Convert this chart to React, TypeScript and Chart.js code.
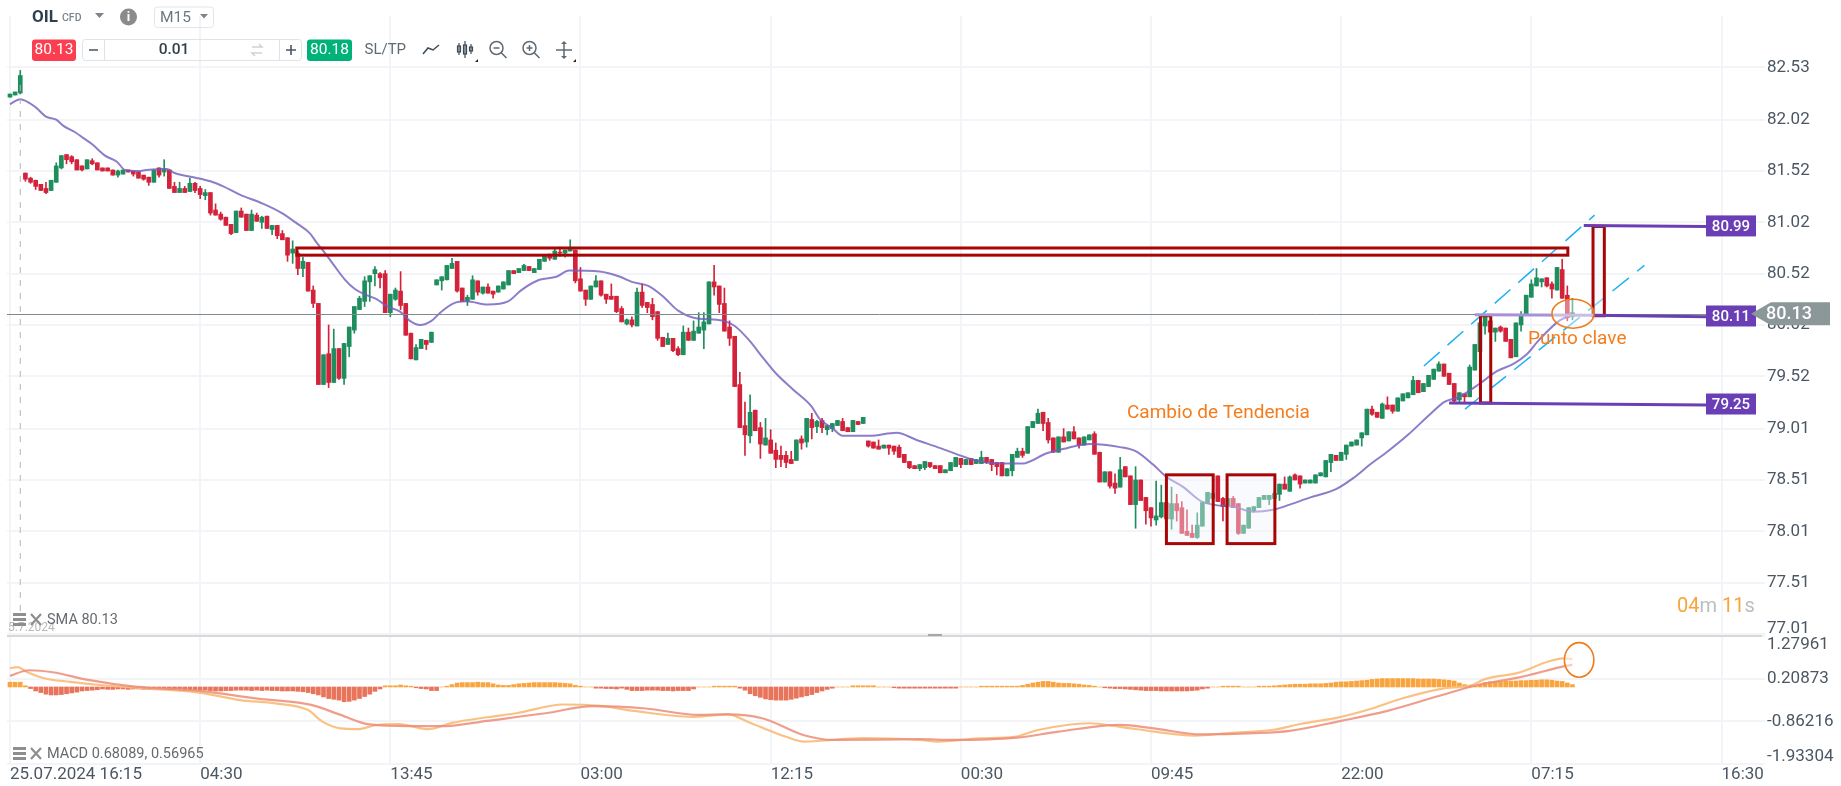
import React, { useEffect, useRef } from "react";
import { Chart, registerables } from "chart.js";

Chart.register(...registerables);

const FONT = "Roboto, sans-serif";

// ---- price candles: [open, high, low, close], one row per 15-minute bar ----
const candlesA = [
  [82.24,82.27,82.24,82.27],[82.26,82.29,82.26,82.29],[82.28,82.50,82.27,82.45],[81.50,81.50,81.42,81.44],
  [81.45,81.46,81.40,81.41],[81.43,81.43,81.34,81.37],[81.39,81.39,81.33,81.33],[81.35,81.41,81.30,81.31],
  [81.33,81.43,81.33,81.43],[81.41,81.60,81.41,81.57],[81.55,81.67,81.54,81.67],[81.68,81.68,81.59,81.63],
  [81.66,81.67,81.59,81.61],[81.63,81.63,81.53,81.53],[81.57,81.57,81.52,81.53],[81.54,81.63,81.54,81.63],
  [81.62,81.64,81.58,81.59],[81.60,81.60,81.53,81.53],[81.55,81.55,81.52,81.52],[81.55,81.55,81.52,81.52],
  [81.53,81.53,81.48,81.48],[81.48,81.53,81.46,81.52],[81.49,81.53,81.49,81.53],[81.53,81.53,81.51,81.51],
  [81.52,81.52,81.47,81.49],[81.51,81.51,81.45,81.45],[81.48,81.48,81.43,81.44],[81.46,81.46,81.38,81.41],
  [81.41,81.53,81.41,81.53],[81.55,81.55,81.46,81.48],[81.51,81.63,81.47,81.54],[81.53,81.53,81.35,81.35],
  [81.37,81.41,81.31,81.31],[81.31,81.41,81.31,81.35],[81.35,81.37,81.31,81.31],[81.32,81.45,81.32,81.40],
  [81.40,81.41,81.31,81.33],[81.35,81.37,81.25,81.29],[81.28,81.34,81.24,81.31],[81.31,81.31,81.09,81.11],
  [81.14,81.20,81.09,81.09],[81.10,81.12,81.04,81.05],[81.07,81.07,80.99,80.99],[81.00,81.00,80.90,80.91],
  [80.92,81.13,80.92,81.13],[81.13,81.16,81.07,81.07],[81.10,81.10,80.94,80.94],[80.94,81.14,80.94,81.10],
  [81.09,81.11,81.03,81.03],[81.02,81.08,80.96,81.07],[81.08,81.08,80.96,80.96],[80.95,80.99,80.90,80.99],
  [80.99,80.99,80.86,80.89],[80.91,80.94,80.85,80.85],[80.87,80.87,80.64,80.70],[80.72,80.84,80.62,80.76],
  [80.72,80.74,80.51,80.57],[80.57,80.68,80.49,80.64],
];
const candlesB = [
  [80.63,80.63,80.35,80.35],[80.36,80.40,80.19,80.23],[80.23,80.23,79.44,79.44],[79.44,79.73,79.44,79.73],
  [79.74,80.02,79.41,79.46],[79.46,79.98,79.46,79.79],[79.79,79.79,79.49,79.50],[79.50,79.84,79.44,79.84],
  [79.81,80.00,79.71,80.00],[79.97,80.20,79.94,80.20],[80.17,80.30,80.17,80.28],[80.25,80.49,80.20,80.45],
  [80.44,80.50,80.25,80.50],[80.52,80.59,80.40,80.56],[80.52,80.53,80.38,80.48],[80.52,80.55,80.14,80.14],
  [80.14,80.32,80.10,80.32],[80.27,80.38,80.26,80.36],[80.35,80.54,80.17,80.21],[80.23,80.23,79.92,79.92],
  [79.94,79.94,79.69,79.69],[79.68,79.83,79.68,79.80],[79.79,79.88,79.79,79.88],[79.87,79.87,79.78,79.83],
  [79.85,79.95,79.85,79.95],[80.41,80.46,80.41,80.46],[80.45,80.49,80.36,80.49],[80.46,80.60,80.46,80.60],
  [80.57,80.67,80.57,80.62],[80.64,80.64,80.34,80.35],[80.38,80.38,80.25,80.25],[80.25,80.31,80.21,80.29],
  [80.27,80.50,80.27,80.46],[80.45,80.45,80.31,80.34],[80.33,80.39,80.32,80.39],[80.39,80.42,80.33,80.33],
  [80.35,80.35,80.28,80.32],[80.34,80.40,80.34,80.40],[80.37,80.44,80.37,80.44],[80.41,80.55,80.41,80.55],
  [80.55,80.55,80.52,80.52],[80.53,80.57,80.53,80.57],[80.55,80.61,80.55,80.60],[80.59,80.59,80.55,80.55],
  [80.53,80.57,80.53,80.57],[80.56,80.66,80.56,80.66],[80.64,80.70,80.64,80.70],[80.71,80.71,80.65,80.67],
  [80.66,80.77,80.66,80.74],[80.73,80.78,80.69,80.72],[80.72,80.75,80.68,80.75],[80.74,80.85,80.74,80.77],
  [80.75,80.75,80.43,80.45],[80.47,80.58,80.35,80.35],[80.36,80.36,80.21,80.27],[80.27,80.40,80.27,80.40],
  [80.39,80.50,80.39,80.45],
];
const candlesC = [
  [80.45,80.45,80.30,80.31],[80.32,80.32,80.23,80.27],[80.30,80.42,80.27,80.27],[80.30,80.30,80.14,80.15],
  [80.18,80.20,80.05,80.05],[80.03,80.08,80.02,80.07],[80.07,80.10,80.00,80.02],[80.01,80.38,80.01,80.34],
  [80.34,80.42,80.19,80.21],[80.24,80.24,80.14,80.19],[80.22,80.28,80.07,80.10],[80.15,80.15,79.87,79.89],
  [79.90,79.90,79.81,79.81],[79.83,79.94,79.83,79.89],[79.89,79.89,79.76,79.77],[79.79,79.81,79.72,79.73],
  [79.73,80.01,79.73,79.95],[79.95,79.99,79.87,79.87],[79.87,80.06,79.87,79.96],[79.94,80.14,79.94,80.00],
  [79.97,80.14,79.79,80.05],[80.03,80.44,80.03,80.44],[80.44,80.60,80.31,80.39],[80.40,80.40,80.14,80.22],
  [80.23,80.38,79.96,79.96],[80.00,80.06,79.82,79.89],[79.91,79.91,79.42,79.42],[79.44,79.56,79.02,79.02],
  [79.04,79.27,78.75,78.95],[78.94,79.34,78.87,79.17],[79.19,79.19,78.99,78.99],[79.02,79.07,78.72,78.86],
  [78.85,79.11,78.85,78.92],[78.90,79.00,78.77,78.77],[78.80,78.87,78.63,78.71],[78.75,78.84,78.64,78.71],
  [78.75,78.79,78.63,78.68],[78.71,78.79,78.67,78.67],[78.70,78.90,78.70,78.90],[78.91,78.94,78.81,78.87],
  [78.88,79.11,78.83,79.11],[79.10,79.16,78.91,79.02],[79.03,79.09,78.97,79.08],[79.09,79.11,78.97,79.02],
  [79.00,79.04,78.95,79.04],[79.01,79.06,78.98,79.06],[79.04,79.09,79.04,79.09],[79.08,79.11,78.99,78.99],
  [79.02,79.02,78.98,78.98],[78.98,79.09,78.98,79.09],[79.08,79.08,79.05,79.05],[79.06,79.12,79.06,79.12],
];
const candlesD = [
  [78.89,78.89,78.83,78.84],[78.88,78.88,78.82,78.82],[78.84,78.90,78.81,78.81],[78.82,78.85,78.82,78.85],
  [78.85,78.85,78.76,78.82],[78.84,78.84,78.76,78.79],[78.83,78.85,78.73,78.73],[78.76,78.76,78.68,78.68],
  [78.69,78.69,78.62,78.63],[78.65,78.65,78.62,78.62],[78.62,78.66,78.60,78.66],[78.63,78.69,78.61,78.69],
  [78.68,78.68,78.63,78.64],[78.65,78.65,78.62,78.62],[78.65,78.65,78.58,78.58],[78.58,78.61,78.58,78.61],
  [78.60,78.68,78.60,78.68],[78.64,78.73,78.64,78.73],[78.72,78.72,78.63,78.66],[78.66,78.71,78.66,78.71],
  [78.72,78.72,78.66,78.66],[78.67,78.71,78.67,78.71],[78.67,78.79,78.67,78.73],[78.73,78.73,78.67,78.68],
  [78.71,78.71,78.60,78.66],[78.68,78.68,78.56,78.64],[78.68,78.68,78.55,78.55],[78.55,78.62,78.55,78.62],
  [78.60,78.76,78.55,78.76],[78.73,78.82,78.73,78.79],[78.79,78.82,78.73,78.75],[78.77,79.03,78.77,79.03],
  [79.02,79.08,79.02,79.08],[79.06,79.20,79.06,79.16],[79.17,79.17,78.99,79.06],[79.07,79.11,78.87,78.90],
  [78.92,78.92,78.78,78.78],[78.78,78.93,78.78,78.93],[78.93,79.01,78.88,78.88],[78.89,78.98,78.89,78.98],
  [78.98,79.03,78.91,78.91],[78.92,78.92,78.82,78.85],[78.85,78.93,78.85,78.93],[78.90,78.95,78.90,78.95],
  [78.96,78.98,78.76,78.76],[78.78,78.78,78.49,78.49],[78.49,78.59,78.49,78.59],[78.59,78.59,78.43,78.45],
  [78.48,78.57,78.38,78.43],[78.44,78.73,78.44,78.61],[78.64,78.64,78.54,78.54],[78.55,78.55,78.27,78.27],
  [78.27,78.64,78.04,78.51],[78.51,78.51,78.31,78.31],[78.34,78.34,78.08,78.21],[78.24,78.24,78.06,78.14],
  [78.12,78.50,78.07,78.16],
];
const candlesE = [
  [78.15,78.46,78.14,78.29],[78.29,78.29,78.12,78.13],[78.13,78.44,78.03,78.28],[78.28,78.37,78.11,78.21],
  [78.24,78.30,77.99,77.99],[78.01,78.22,77.97,77.97],[77.99,78.07,77.95,77.95],[77.95,78.19,77.94,78.07],
  [78.06,78.29,78.06,78.29],[78.28,78.39,78.28,78.39],[78.33,78.40,78.33,78.38],[78.55,78.55,78.30,78.30],
  [78.33,78.34,78.11,78.25],[78.26,78.33,78.26,78.33],[78.33,78.35,78.24,78.24],[78.28,78.28,77.98,77.99],
  [77.99,78.07,77.99,78.07],[78.04,78.24,78.04,78.24],[78.21,78.25,78.20,78.25],[78.24,78.34,78.24,78.34],
  [78.32,78.36,78.32,78.36],[78.32,78.36,78.27,78.36],[78.33,78.40,78.33,78.38],[78.37,78.47,78.31,78.47],
  [78.47,78.54,78.42,78.42],[78.40,78.55,78.40,78.54],[78.56,78.57,78.51,78.51],[78.55,78.55,78.43,78.47],
  [78.48,78.51,78.48,78.51],[78.48,78.51,78.48,78.51],[78.48,78.56,78.48,78.56],[78.55,78.58,78.55,78.58],
  [78.54,78.70,78.54,78.70],[78.68,78.76,78.59,78.76],[78.75,78.75,78.70,78.70],[78.70,78.78,78.70,78.78],
  [78.76,78.85,78.71,78.85],[78.84,78.88,78.84,78.88],[78.85,78.90,78.85,78.90],[78.92,78.97,78.84,78.97],
  [78.95,79.20,78.95,79.20],
];
const candlesF = [
  [79.20,79.23,79.14,79.15],[79.17,79.17,79.12,79.12],[79.11,79.26,79.11,79.25],[79.24,79.32,79.20,79.20],
  [79.24,79.24,79.16,79.18],[79.18,79.31,79.18,79.31],[79.28,79.35,79.28,79.35],[79.31,79.36,79.31,79.36],
  [79.34,79.52,79.34,79.48],[79.48,79.48,79.36,79.36],[79.37,79.45,79.37,79.45],[79.42,79.53,79.42,79.53],
  [79.49,79.59,79.49,79.59],[79.57,79.66,79.57,79.64],[79.64,79.64,79.52,79.52],[79.55,79.55,79.44,79.44],
  [79.45,79.45,79.27,79.28],[79.29,79.36,79.26,79.36],[79.35,79.35,79.26,79.32],[79.32,79.63,79.32,79.61],
  [79.58,79.83,79.58,79.83],[79.76,80.04,79.76,80.04],[80.01,80.10,79.93,80.10],[80.06,80.06,79.95,79.95],
  [79.95,79.99,79.86,79.99],[80.00,80.01,79.95,79.96],[79.99,79.99,79.86,79.86],[79.88,79.88,79.70,79.70],
  [79.71,80.04,79.71,80.04],[80.02,80.15,79.96,80.12],[80.12,80.31,80.12,80.31],[80.29,80.46,80.29,80.42],
  [80.40,80.57,80.40,80.48],[80.44,80.47,80.39,80.47],[80.48,80.48,80.39,80.40],[80.42,80.44,80.28,80.37],
  [80.36,80.58,80.36,80.58],[80.56,80.66,80.28,80.28],[80.31,80.40,80.06,80.09],[80.10,80.28,80.07,80.14],
];
const candles = [...candlesA, ...candlesB, ...candlesC, ...candlesD, ...candlesE, ...candlesF];

// ---- SMA overlay: [bar index, price] ----
const smaPoints = [
  [0,82.17],[2,82.22],[5,82.14],[7,82.05],[9,82.02],[10.4,81.96],[12.6,81.90],[14.3,81.84],[16,81.78],[18.5,81.67],
  [20.8,81.61],[22.4,81.53],[25,81.52],[26.6,81.53],[30.5,81.54],[32,81.50],[35.7,81.46],[39,81.42],[41.5,81.37],
  [44.7,81.29],[49.3,81.20],[52.9,81.11],[55.8,81.01],[58.4,80.91],[59.7,80.82],[61.3,80.72],[63.2,80.59],[65.2,80.46],
  [67.1,80.37],[69.4,80.31],[71.4,80.27],[73.4,80.20],[75.9,80.15],[77.8,80.06],[79.8,80.02],[82,80.06],[83.7,80.14],
  [86.3,80.23],[88.8,80.25],[93,80.22],[96.9,80.25],[99.5,80.36],[103,80.46],[106.3,80.49],[108.8,80.55],[114.7,80.54],
  [118.7,80.49],[121,80.44],[124.2,80.40],[127,80.30],[130,80.16],[134,80.08],[137.5,80.07],[141,80.01],[144,79.86],
  [146.2,79.72],[149,79.55],[152.4,79.39],[155.9,79.23],[157.6,79.10],[159.9,79.02],[162,78.94],[167.3,78.94],
  [172.5,78.97],[176.4,78.90],[181,78.82],[184.8,78.75],[188.7,78.69],[193,78.67],[197,78.67],[201.7,78.77],[205.6,78.82],
  [210,78.86],[216,78.83],[219,78.79],[222.4,78.66],[225,78.54],[228.3,78.44],[231.5,78.31],[234,78.27],[238,78.25],
  [241.9,78.20],[245.8,78.22],[249,78.27],[253,78.34],[258,78.42],[261.4,78.53],[264.6,78.66],[268.1,78.79],[272,78.95],
  [276.3,79.15],[279.1,79.27],[282,79.32],[286,79.45],[289.3,79.57],[292.5,79.64],[295,79.73],[297.6,79.88],[301.4,80.06],[304,80.12],
];

// ---- MACD panel ----
const macdPoints = [
  [0,0.47],[1.5,0.50],[3.2,0.38],[6.6,0.22],[11.8,0.13],[17.5,0.05],[25.5,-0.03],[36.8,-0.14],[44.8,-0.33],[51.6,-0.41],
  [58,-0.58],[60.8,-0.87],[64.3,-1.04],[67.7,-1.06],[71,-0.96],[75.7,-0.93],[81.4,-1.06],[86,-0.90],[92.8,-0.76],[98.5,-0.66],
  [107.7,-0.44],[114.5,-0.47],[121.4,-0.60],[132.8,-0.75],[139.6,-0.69],[144.2,-0.91],[151,-1.25],[154.5,-1.37],[157.9,-1.35],
  [165.9,-1.28],[177,-1.33],[180.5,-1.37],[188.5,-1.29],[195.4,-1.25],[200,-1.08],[210,-0.91],[216,-1.00],[222.6,-1.12],
  [230.6,-1.22],[237.6,-1.15],[245.5,-1.08],[251,-0.93],[259,-0.75],[265,-0.54],[270.8,-0.29],[278.7,-0.04],[284.5,0.05],
  [286.8,0.19],[293.6,0.36],[299.3,0.64],[302.2,0.72],[304,0.70],
];
const signalPoints = [
  [0,0.28],[3.7,0.42],[8.3,0.37],[15.2,0.18],[24.3,0.01],[36.8,-0.10],[48.2,-0.29],[58.6,-0.45],[64.3,-0.70],[70,-0.94],
  [77.9,-0.98],[84.8,-0.98],[92.8,-0.85],[104.2,-0.66],[113.4,-0.48],[123.7,-0.54],[134,-0.70],[139.6,-0.69],[146.5,-0.79],
  [154.5,-1.21],[160.2,-1.33],[177,-1.31],[183.4,-1.33],[196,-1.27],[204,-1.12],[216,-0.95],[222.6,-1.04],[231.7,-1.19],
  [242,-1.16],[249,-1.10],[259,-0.85],[268,-0.60],[277.6,-0.24],[285.6,0.05],[293.6,0.24],[302.7,0.53],[304,0.56],
];
const histValues = [
  .12,.12,.12,.03,-.04,-.1,-.14,-.18,-.2,-.2,-.19,-.17,-.15,-.13,-.1,-.09,-.08,-.07,
  -.05,-.06,-.06,-.05,-.05,-.06,-.05,-.05,-.06,-.06,-.05,-.05,-.06,-.06,-.06,-.05,-.06,-.07,-.07,
  -.08,-.08,-.09,-.1,-.1,-.09,-.09,-.08,-.08,-.08,-.09,-.08,-.09,-.08,-.09,-.09,-.1,-.1,-.1,
  -.11,-.12,-.14,-.17,-.2,-.25,-.29,-.31,-.33,-.37,-.36,-.33,-.29,-.24,-.18,-.11,-.05,
  .03,.03,.03,.05,.03,.02,-.02,-.04,-.05,-.09,-.09,0,.02,.06,.1,.11,.11,.11,.12,.11,.11,.08,.05,.04,.04,.06,.08,.09,.1,.11,.11,.11,.11,.11,.1,.09,.08,.04,.02,0,0,
  -.03,-.03,-.04,-.04,-.05,-.03,-.06,-.09,-.09,-.09,-.08,-.08,-.08,-.09,-.09,-.1,-.09,-.09,-.09,-.05,0,0,0,
  .02,.02,.02,.02,.02,-.03,-.08,-.17,-.22,-.26,-.3,-.32,-.33,-.33,-.33,-.31,-.28,-.25,-.22,-.19,-.14,-.1,-.06,-.03,0,0,0,
  .03,.03,.03,.03,.03,0,0,0,-.02,-.03,-.03,-.03,-.03,-.03,-.03,-.03,-.03,-.03,-.03,-.03,-.03,0,0,0,0,
  .02,.02,.02,.02,.02,.02,.02,.02,.04,.07,.1,.12,.14,.14,.12,.1,.09,.09,.08,.07,.05,.04,.02,0,
  -.02,-.03,-.04,-.04,-.05,-.06,-.07,-.08,-.09,-.09,-.09,-.1,-.1,-.1,-.1,-.1,-.1,-.09,-.08,-.05,-.03,0,0,
  .02,.02,.02,.02,0,0,0,.02,.02,.02,.03,.04,.05,.06,.07,.07,.07,.08,.08,.08,.09,.1,.12,.13,.13,.14,.15,.16,.17,
  .19,.2,.21,.21,.21,.21,.21,.21,.21,.2,.2,.2,.2,.19,.18,.17,.15,.1,.06,.04,.03,.07,.11,.13,.14,.14,.15,.15,.15,.16,.16,.17,.17,.18,.18,.17,.15,.14,.1,.06,
];

// ---- axes ----
const xTickValues = [0, 37, 74, 111, 148, 185, 222, 259, 296, 333];
const xTickLabels = ["25.07.2024 16:15", "04:30", "13:45", "03:00", "12:15", "00:30", "09:45", "22:00", "07:15", "16:30"];
const priceTicks = [82.53, 82.02, 81.52, 81.02, 80.52, 80.02, 79.52, 79.01, 78.51, 78.01, 77.51, 77.01];
const macdTicks = [1.27961, 0.20873, -0.86216, -1.93304];

// ---- drawn-on annotations, in bar index / price units ----
const redBoxes = [
  [55.8, 80.77, 303.1, 80.70],
  [225, 78.56, 234.1, 77.89],
  [236.8, 78.56, 246.1, 77.89],
  [286.1, 80.11, 288.1, 79.26],
  [308, 80.98, 310.2, 80.11],
];
const purpleLines = [
  [306.2, 80.99, 330, 80.98, "80.99", "#6a3fb5"],
  [308, 80.115, 330, 80.10, "80.11", "#6a3fb5"],
  [285, 80.12, 308, 80.115, "", "#a892d6"],
  [280, 79.26, 330, 79.24, "79.25", "#6a3fb5"],
];
const channelLines = [
  [275.1, 79.62, 308.3, 81.09],
  [283.1, 79.20, 318, 80.60],
];
const lastPrice = 80.13;
const sessionBreak = 2;

function App() {
  const ref = useRef<HTMLCanvasElement | null>(null);
  useEffect(() => {
    const red = "#d3233b";
    const green = "#1e8e5e";
    const col = (c: number[]) => (c[3] >= c[0] ? green : red);
    const overlay = {
      id: "overlay",
      afterDraw(chart: any) {
        const { ctx, scales, chartArea } = chart;
        const X = (v: number) => scales.x.getPixelForValue(v);
        const Y = (v: number) => scales.y.getPixelForValue(v);
        const Y2 = (v: number) => scales.y2.getPixelForValue(v);
        const text = (s: string, x: number, y: number, font: string, color: string, align: any = "left") => {
          ctx.font = font; ctx.fillStyle = color; ctx.textAlign = align; ctx.textBaseline = "middle";
          ctx.fillText(s, x, y);
        };
        const tri = (x1: number, x2: number, y1: number, y2: number, color: string) => {
          ctx.fillStyle = color; ctx.beginPath(); ctx.moveTo(x1, y1); ctx.lineTo(x2, y1); ctx.lineTo((x1 + x2) / 2, y2); ctx.closePath(); ctx.fill();
        };
        const rr = (x: number, y: number, w: number, h: number, r: number) => {
          ctx.beginPath(); ctx.roundRect(x, y, w, h, r);
        };
        ctx.save();

        // session break
        ctx.strokeStyle = "#b5b5b5"; ctx.lineWidth = 1; ctx.setLineDash([6, 7]);
        ctx.beginPath(); ctx.moveTo(X(sessionBreak), 85); ctx.lineTo(X(sessionBreak), 615); ctx.stroke();
        ctx.setLineDash([]);

        // last price line
        ctx.strokeStyle = "#7f8a90"; ctx.lineWidth = 1;
        ctx.beginPath(); ctx.moveTo(chartArea.left, Math.round(Y(lastPrice)) + .5); ctx.lineTo(1752, Math.round(Y(lastPrice)) + .5); ctx.stroke();

        // channel
        ctx.strokeStyle = "#1db1f0"; ctx.lineWidth = 1.5; ctx.setLineDash([21, 10.5]);
        channelLines.forEach(l => { ctx.beginPath(); ctx.moveTo(X(l[0]), Y(l[1])); ctx.lineTo(X(l[2]), Y(l[3])); ctx.stroke(); });
        ctx.setLineDash([]);

        // red boxes
        redBoxes.forEach((b, i) => {
          const x = X(b[0]), y = Y(b[1]), w = X(b[2]) - x, h = Y(b[3]) - y;
          if (i === 1 || i === 2) { ctx.fillStyle = "rgba(240,243,250,.42)"; ctx.fillRect(x, y, w, h); }
          if (i === 4) { ctx.fillStyle = "rgba(240,243,250,.5)"; ctx.fillRect(x, y, w, h); }
          ctx.strokeStyle = "#a80606"; ctx.lineWidth = 3; ctx.strokeRect(x, y, w, h);
        });

        // purple target lines and their tags
        purpleLines.forEach((l: any) => {
          ctx.strokeStyle = l[5]; ctx.lineWidth = 3;
          ctx.beginPath(); ctx.moveTo(X(l[0]), Y(l[1])); ctx.lineTo(X(l[2]), Y(l[3])); ctx.stroke();
          if (!l[4]) return;
          const cy = Y((l[1] + l[3]) / 2);
          ctx.fillStyle = "#6a3fb5"; ctx.fillRect(1706, cy - 10.5, 50, 21);
          text(l[4], 1731, cy + 1, `500 15px ${FONT}`, "#ffffff", "center");
        });

        // key-point ellipse
        ctx.strokeStyle = "#ee7b1b"; ctx.lineWidth = 1.6; ctx.fillStyle = "rgba(255,255,255,.4)";
        ctx.beginPath(); ctx.ellipse(X(304.1), Y(80.13), 21, 14.5, 0, 0, Math.PI * 2); ctx.fill(); ctx.stroke();
        ctx.fillStyle = "rgba(255,255,255,.5)";
        ctx.beginPath(); ctx.ellipse(X(305.3), Y2(0.68), 14.7, 17.3, 0, 0, Math.PI * 2); ctx.fill(); ctx.stroke();

        // price tag
        const py = Y(lastPrice);
        ctx.fillStyle = "#8b9799";
        ctx.beginPath(); ctx.moveTo(1751, py); ctx.lineTo(1771, py - 11.5); ctx.lineTo(1830, py - 11.5); ctx.lineTo(1830, py + 11.5); ctx.lineTo(1771, py + 11.5); ctx.closePath(); ctx.fill();
        text("80.13", 1789, py + 1, `500 18px ${FONT}`, "#ffffff", "center");

        // axis labels that sit inside the panel edges
        const axisFont = `17px ${FONT}`, axisCol = "#4b5763";
        text("77.01", 1767, 629, axisFont, axisCol);
        text("1.27961", 1767, 645, axisFont, axisCol);
        text("-1.93304", 1767, 757, axisFont, axisCol);

        // notes
        text("Cambio de Tendencia", 1127, 413, `19px ${FONT}`, "#f57c1c");
        text("Punto clave", 1528, 339, `19px ${FONT}`, "#f57c1c");

        // countdown
        ctx.textAlign = "left";
        let cx = 1677;
        [["04", "#f9a339"], ["m ", "#b9bec4"], ["11", "#f9a339"], ["s", "#b9bec4"]].forEach(([s, c]) => {
          text(s, cx, 607, `20px ${FONT}`, c);
          cx += ctx.measureText(s).width;
        });

        // panel separator
        ctx.fillStyle = "#d8d8d8"; ctx.fillRect(7, 635, 1755, 2);
        ctx.fillStyle = "#a8a8a8"; ctx.fillRect(928, 634, 14, 2);

        // indicator captions
        text("5.7.2024", 8, 628, `12px ${FONT}`, "#b9b9b9");
        const caption = (s: string, y: number) => {
          ctx.fillStyle = "#8e8e8e";
          ctx.fillRect(13, y - 7, 13, 3); ctx.fillRect(13, y - 2, 13, 3); ctx.fillRect(13, y + 3, 13, 3);
          ctx.strokeStyle = "#8e8e8e"; ctx.lineWidth = 2.2;
          ctx.beginPath(); ctx.moveTo(31, y - 6); ctx.lineTo(41, y + 5); ctx.moveTo(41, y - 6); ctx.lineTo(31, y + 5); ctx.stroke();
          text(s, 47, y, `14.5px ${FONT}`, "#666b70");
        };
        caption("SMA 80.13", 620);
        caption("MACD 0.68089, 0.56965", 754);

        // toolbar row 1
        text("OIL", 32, 17.5, `700 17px ${FONT}`, "#2f3f4e");
        text("CFD", 62, 18, `500 10.5px ${FONT}`, "#7c858d");
        tri(95, 104, 13, 18, "#7c858d");
        ctx.fillStyle = "#8b8b8b"; ctx.beginPath(); ctx.arc(128.5, 17, 8.5, 0, Math.PI * 2); ctx.fill();
        text("i", 128.5, 17.5, `700 13px ${FONT}`, "#ffffff", "center");
        ctx.strokeStyle = "#e2e5e8"; ctx.lineWidth = 1; rr(154.5, 7, 59, 20.5, 3); ctx.stroke();
        text("M15", 160, 18, `15.5px ${FONT}`, "#6b7680");
        tri(200, 208, 14, 18.5, "#7c858d");

        // toolbar row 2
        ctx.fillStyle = "#fb3f50"; rr(32, 39.5, 44, 21.5, 3); ctx.fill();
        text("80.13", 54, 50.5, `15.5px ${FONT}`, "#ffffff", "center");
        ctx.strokeStyle = "#dfe3e7"; ctx.lineWidth = 1; rr(82.5, 39.5, 219, 21, 3); ctx.stroke();
        ctx.beginPath(); ctx.moveTo(104.5, 40); ctx.lineTo(104.5, 60); ctx.moveTo(279.5, 40); ctx.lineTo(279.5, 60); ctx.stroke();
        ctx.strokeStyle = "#4a5560"; ctx.lineWidth = 1.6;
        ctx.beginPath(); ctx.moveTo(89, 50); ctx.lineTo(98, 50); ctx.moveTo(286, 50); ctx.lineTo(296, 50); ctx.moveTo(291, 45); ctx.lineTo(291, 55); ctx.stroke();
        text("0.01", 174, 50.5, `500 15.5px ${FONT}`, "#2f3f4e", "center");
        ctx.strokeStyle = "#cfd3d6"; ctx.lineWidth = 1.5;
        ctx.beginPath(); ctx.moveTo(252, 47); ctx.lineTo(262, 47); ctx.lineTo(259, 44); ctx.moveTo(262, 53); ctx.lineTo(252, 53); ctx.lineTo(255, 56); ctx.stroke();
        ctx.fillStyle = "#00b278"; rr(307, 39.5, 45, 21.5, 3); ctx.fill();
        text("80.18", 329.5, 50.5, `15.5px ${FONT}`, "#ffffff", "center");
        text("SL/TP", 364.5, 50.5, `15px ${FONT}`, "#5d6a75");

        // toolbar icons
        ctx.strokeStyle = "#3f4a54"; ctx.lineWidth = 1.5;
        ctx.beginPath(); ctx.moveTo(423, 54); ctx.lineTo(428, 48); ctx.lineTo(433, 50); ctx.lineTo(439, 45); ctx.stroke();
        ctx.lineWidth = 1.2;
        [[459, 43, 55, 46, 52], [465, 41, 58, 45, 54], [471, 44, 54, 47, 51]].forEach(([x, a, b, c, d]) => {
          ctx.beginPath(); ctx.moveTo(x, a); ctx.lineTo(x, b); ctx.stroke();
          ctx.strokeRect(x - 1.5, c, 3, d - c);
        });
        ctx.strokeStyle = "#5f6a74"; ctx.lineWidth = 1.5;
        [[496.5, "-"], [529.5, "+"]].forEach(([x, k]: any) => {
          ctx.beginPath(); ctx.arc(x, 48, 6.5, 0, Math.PI * 2); ctx.moveTo(x + 5, 53); ctx.lineTo(x + 10, 58);
          ctx.moveTo(x - 3, 48); ctx.lineTo(x + 3, 48);
          if (k === "+") { ctx.moveTo(x, 45); ctx.lineTo(x, 51); }
          ctx.stroke();
        });
        ctx.beginPath(); ctx.moveTo(556, 50); ctx.lineTo(572, 50); ctx.moveTo(564, 42); ctx.lineTo(564, 58); ctx.stroke();
        tri(561, 567, 44, 41, "#5f6a74"); tri(561, 567, 56, 59, "#5f6a74");
        ctx.fillStyle = "#222";
        [[478, 476], [576, 574]].forEach(([a, b]) => { ctx.beginPath(); ctx.moveTo(a, 59); ctx.lineTo(a, 62); ctx.lineTo(b - 1, 62); ctx.closePath(); ctx.fill(); });

        ctx.restore();
      },
    };

    const chart = new Chart(ref.current as HTMLCanvasElement, {
      type: "bar",
      data: {
        datasets: [
          {
            type: "line", yAxisID: "y", order: 1, data: smaPoints.map(p => ({ x: p[0], y: p[1] })),
            borderColor: "rgba(112,92,188,.8)", borderWidth: 2, pointRadius: 0, cubicInterpolationMode: "monotone",
          },
          {
            type: "line", yAxisID: "y2", order: 1, data: signalPoints.map(p => ({ x: p[0], y: p[1] })),
            borderColor: "rgba(236,140,120,.85)", borderWidth: 2.2, pointRadius: 0, cubicInterpolationMode: "monotone",
          },
          {
            type: "line", yAxisID: "y2", order: 1, data: macdPoints.map(p => ({ x: p[0], y: p[1] })),
            borderColor: "rgba(250,190,125,.95)", borderWidth: 2.2, pointRadius: 0, cubicInterpolationMode: "monotone",
          },
          {
            type: "bar", yAxisID: "y", order: 2, grouped: false, barThickness: 4,
            data: candles.map((c, i) => ({ x: i, y: [c[0], c[3]] })),
            backgroundColor: candles.map(col), borderWidth: 0,
          },
          {
            type: "bar", yAxisID: "y", order: 3, grouped: false, barThickness: 1,
            data: candles.map((c, i) => ({ x: i, y: [c[2], c[1]] })),
            backgroundColor: candles.map(col), borderWidth: 0,
          },
          {
            type: "bar", yAxisID: "y2", order: 4, grouped: false, barThickness: 4,
            data: histValues.map((v, i) => ({ x: i, y: [0, v] })),
            backgroundColor: histValues.map(v => (v >= 0 ? "#f9a53f" : "#e9745c")), borderWidth: 0,
          },
        ],
      } as any,
      options: {
        animation: false,
        responsive: false,
        maintainAspectRatio: false,
        events: [],
        layout: { autoPadding: false, padding: { top: 16, left: 7, right: 0, bottom: 0 } },
        plugins: { legend: { display: false }, tooltip: { enabled: false } },
        scales: {
          x: {
            type: "linear", min: -0.58, max: 341.46, offset: false,
            grid: { color: "#f3f4f7", lineWidth: 2, drawTicks: false, offset: false },
            border: { display: false },
            afterBuildTicks: (s: any) => { s.ticks = xTickValues.map(value => ({ value })); },
            afterFit: (s: any) => { s.height = 22; },
            ticks: {
              align: "start", autoSkip: false, maxRotation: 0, padding: 1,
              font: { family: FONT, size: 17 }, color: "#4b5763",
              callback: (_v: any, i: number) => xTickLabels[i],
            },
          },
          y: {
            type: "linear", position: "right", stack: "panes", stackWeight: 620, min: 76.99, max: 83.03,
            grid: { color: "#f3f4f7", lineWidth: 2, drawTicks: false },
            border: { display: false },
            afterBuildTicks: (s: any) => { s.ticks = priceTicks.map(value => ({ value })); },
            afterFit: (s: any) => { s.width = 76; },
            ticks: {
              autoSkip: false, padding: 2, font: { family: FONT, size: 17 }, color: "#4b5763",
              callback: (_v: any, i: number) => (i < priceTicks.length - 1 ? priceTicks[i].toFixed(2) : ""),
            },
          },
          y2: {
            type: "linear", position: "right", stack: "panes", stackWeight: 128, min: -1.93304, max: 1.27961,
            grid: { color: "#f3f4f7", lineWidth: 2, drawTicks: false },
            border: { display: false },
            afterBuildTicks: (s: any) => { s.ticks = macdTicks.map(value => ({ value })); },
            afterFit: (s: any) => { s.width = 76; },
            ticks: {
              autoSkip: false, padding: 2, font: { family: FONT, size: 17 }, color: "#4b5763",
              callback: (_v: any, i: number) => (i === 1 || i === 2 ? macdTicks[i].toFixed(5) : ""),
            },
          },
        },
      } as any,
      plugins: [overlay as any],
    });
    return () => chart.destroy();
  }, []);
  return (
    <div style={{ position: "fixed", left: 0, top: 0, width: 1841, height: 786, background: "#fff", overflow: "hidden" }}>
      <canvas ref={ref} width={1841} height={786} style={{ display: "block", width: 1841, height: 786 }} />
    </div>
  );
}

export default App;
